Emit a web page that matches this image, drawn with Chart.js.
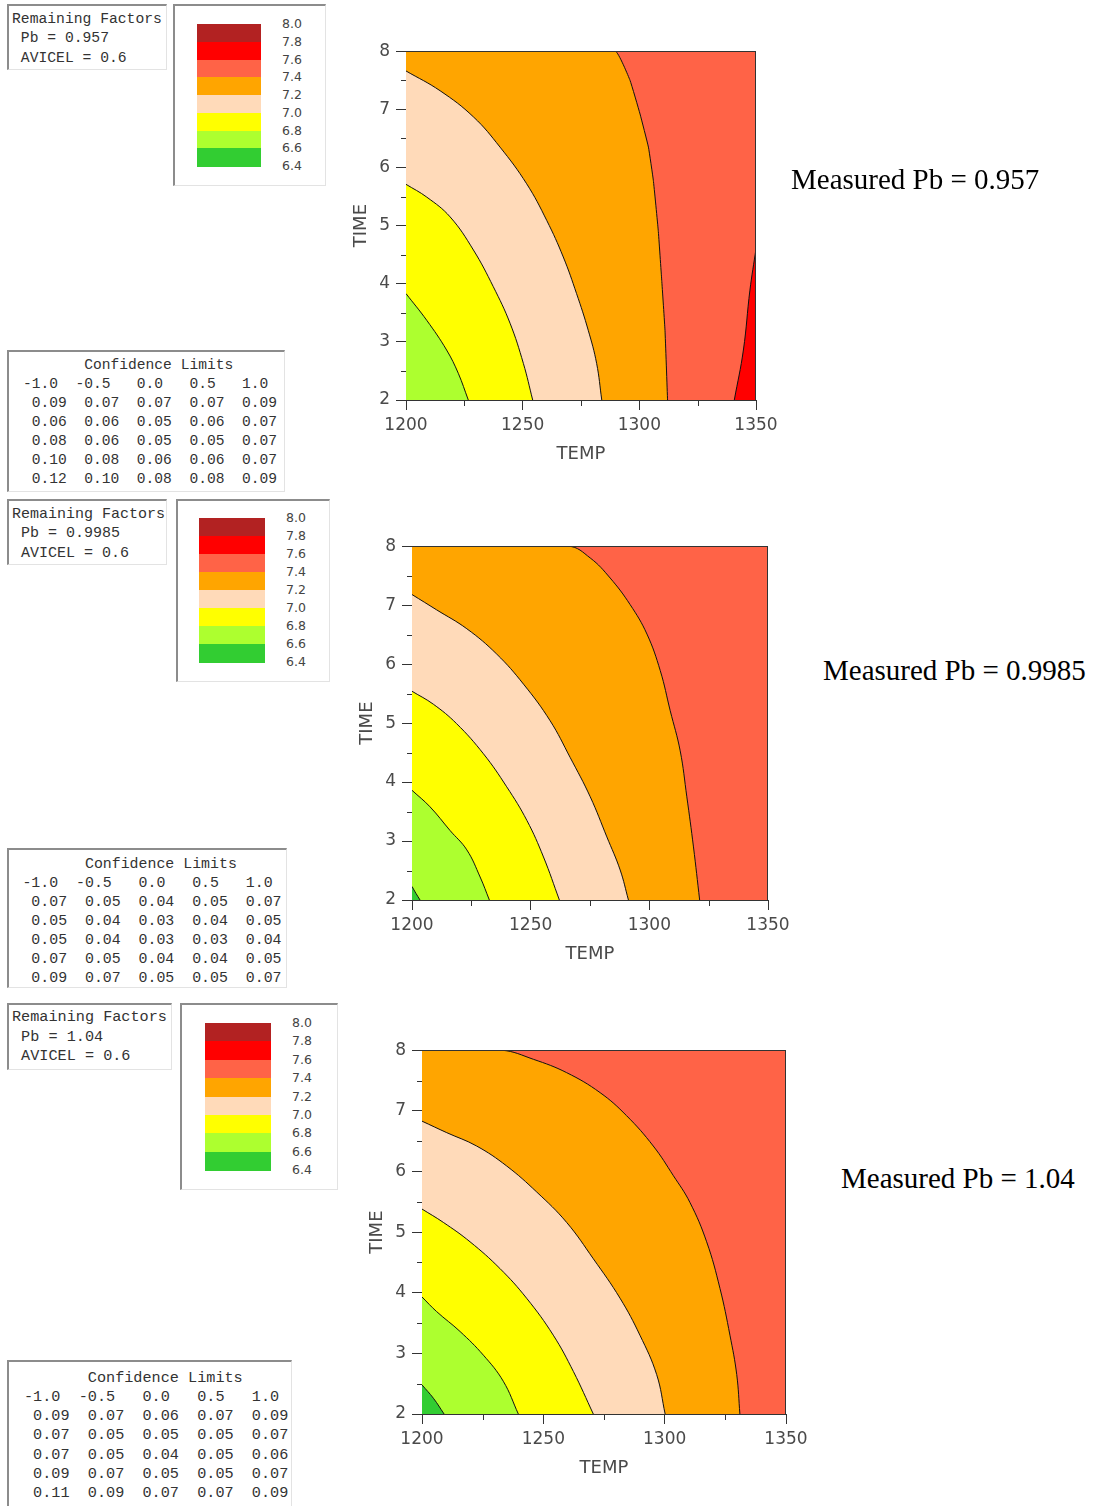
<!DOCTYPE html>
<html lang="en">
<head>
<meta charset="utf-8">
<title>Contour plots – Measured Pb</title>
<script src="https://cdn.jsdelivr.net/npm/chart.js@4.4.1/dist/chart.umd.min.js"></script>
<style>
    html, body { margin: 0; padding: 0; background: #fff; }
    body { position: relative; width: 1094px; height: 1506px; overflow: hidden; }
    .frame {
        position: absolute; box-sizing: border-box; background: #fff;
        border-top: 2px solid #8c8c8c; border-left: 2px solid #8c8c8c;
        border-right: 1px solid #e3e3e3; border-bottom: 1px solid #e3e3e3;
    }
    .mono {
        position: absolute; margin: 0; white-space: pre; color: #333;
        font-family: 'Liberation Mono', 'DejaVu Sans Mono', monospace;
    }
    .band { position: absolute; }
    .lvl {
        position: absolute; font: 12.5px 'DejaVu Sans', sans-serif;
        line-height: 14px; color: #444;
    }
    .note {
        position: absolute; white-space: nowrap; color: #000;
        font-family: 'Liberation Serif', 'Times New Roman', serif;
        font-size: 29px; line-height: 29px;
    }
    canvas { position: absolute; }
</style>
</head>
<body>
<script>
// ── Data ─────────────────────────────────────────────────────

const legendLevels = ['8.0', '7.8', '7.6', '7.4', '7.2', '7.0', '6.8', '6.6', '6.4'];
const legendColors = ['#B22222', '#FF0000', '#FF6347', '#FFA500', '#FFDAB9', '#FFFF00', '#ADFF2F', '#32CD32'];

const tempRange = [1200, 1350];
const timeRange = [2, 8];

const confColumns = [-1.0, -0.5, 0.0, 0.5, 1.0];

const conf957 = [
    [0.09, 0.07, 0.07, 0.07, 0.09],
    [0.06, 0.06, 0.05, 0.06, 0.07],
    [0.08, 0.06, 0.05, 0.05, 0.07],
    [0.10, 0.08, 0.06, 0.06, 0.07],
    [0.12, 0.10, 0.08, 0.08, 0.09],
];
const conf9985 = [
    [0.07, 0.05, 0.04, 0.05, 0.07],
    [0.05, 0.04, 0.03, 0.04, 0.05],
    [0.05, 0.04, 0.03, 0.03, 0.04],
    [0.07, 0.05, 0.04, 0.04, 0.05],
    [0.09, 0.07, 0.05, 0.05, 0.07],
];
const conf104 = [
    [0.09, 0.07, 0.06, 0.07, 0.09],
    [0.07, 0.05, 0.05, 0.05, 0.07],
    [0.07, 0.05, 0.04, 0.05, 0.06],
    [0.09, 0.07, 0.05, 0.05, 0.07],
    [0.11, 0.09, 0.07, 0.07, 0.09],
];

// Contour lines, Pb = 0.957 (TEMP, TIME)
const temp957_68 = [1200, 1208.9, 1217.4, 1222.4, 1226.7];
const time957_68 = [3.83, 3.37, 2.86, 2.46, 2.0];
const temp957_70 = [1200, 1208.9, 1218.9, 1228.9, 1237.4, 1244.6, 1250.3, 1254.3];
const time957_70 = [5.71, 5.49, 5.15, 4.58, 3.95, 3.32, 2.63, 2.0];
const temp957_72 = [1200, 1214.6, 1228.9, 1240.3, 1251.7, 1260.3, 1267.4, 1273.1, 1278.1, 1281.7, 1283.9];
const time957_72 = [7.66, 7.32, 6.87, 6.35, 5.72, 5.09, 4.46, 3.83, 3.20, 2.63, 2.0];
const temp957_74 = [1200, 1289.7, 1296, 1300.3, 1303.9, 1306, 1308.1, 1309.6, 1311, 1312.1];
const time957_74 = [8, 8, 7.50, 6.92, 6.35, 5.78, 4.92, 4.06, 3.20, 2.0];
const temp957_76 = [1340.7, 1344.6, 1347.4, 1350];
const time957_76 = [2.0, 2.86, 3.89, 4.6];

// Contour lines, Pb = 0.9985
const temp9985_66 = [1200, 1201.7, 1203.4];
const time9985_66 = [2.23, 2.11, 2.0];
const temp9985_68 = [1200, 1207.6, 1216, 1223.1, 1228.7, 1232.6];
const time9985_68 = [3.86, 3.58, 3.18, 2.85, 2.39, 2.0];
const temp9985_70 = [1200, 1209, 1218.8, 1230.1, 1239.9, 1248.4, 1255.4, 1262.1];
const time9985_70 = [5.54, 5.32, 4.99, 4.48, 3.92, 3.35, 2.73, 2.0];
const temp9985_72 = [1200, 1210.4, 1223.1, 1235.7, 1247, 1258.2, 1266.6, 1275.1, 1282.1, 1287.7, 1291.2];
const time9985_72 = [7.18, 6.92, 6.60, 6.17, 5.66, 5.04, 4.42, 3.75, 3.07, 2.51, 2.0];
const temp9985_74 = [1200, 1265.9, 1275.1, 1283.5, 1291.9, 1299, 1304.6, 1308.8, 1313, 1315.8, 1318.6, 1321.2];
const time9985_74 = [8, 8, 7.80, 7.46, 7.01, 6.51, 5.89, 5.21, 4.53, 3.75, 2.90, 2.0];

// Contour lines, Pb = 1.04
const temp104_66 = [1200, 1204.7, 1209.1];
const time104_66 = [2.48, 2.26, 2.0];
const temp104_68 = [1200, 1206, 1215.7, 1225.3, 1233.5, 1239.7];
const time104_68 = [3.93, 3.69, 3.36, 2.97, 2.54, 2.0];
const temp104_70 = [1200, 1208.8, 1219.8, 1232.1, 1243.1, 1254.1, 1262.4, 1270.6];
const time104_70 = [5.38, 5.16, 4.84, 4.40, 3.91, 3.30, 2.70, 2.0];
const temp104_72 = [1200, 1210.2, 1222.5, 1234.9, 1247.3, 1259.6, 1270.6, 1281.6, 1289.8, 1296.7, 1300.2];
const time104_72 = [6.83, 6.64, 6.42, 6.09, 5.66, 5.16, 4.56, 3.91, 3.30, 2.65, 2.0];
const temp104_74 = [1200, 1232.8, 1245.9, 1259.6, 1273.4, 1284.3, 1295.3, 1303.6, 1310.4, 1317.3, 1322.8, 1326.9, 1329.7, 1331];
const time104_74 = [8, 8, 7.85, 7.63, 7.30, 6.92, 6.42, 5.93, 5.49, 4.84, 4.07, 3.30, 2.65, 2.0];

// ── Layout ───────────────────────────────────────────────────

const AXIS_W = 80, AXIS_H = 75, PAD_T = 15, PAD_R = 40;
const AXIS_COLOR = '#333';
const LABEL_COLOR = '#4a4a4a';

const panels = [
    {
        pb: '0.957', conf: conf957,
        contours: [
            { temp: temp957_68, time: time957_68, level: '6.8', side: 'below' },
            { temp: temp957_70, time: time957_70, level: '7.0', side: 'below' },
            { temp: temp957_72, time: time957_72, level: '7.2', side: 'below' },
            { temp: temp957_74, time: time957_74, level: '7.4', side: 'below', tension: 0.1 },
            { temp: temp957_76, time: time957_76, level: '7.6', side: 'above' },
        ],
        info:   { left: 7, top: 4, width: 160, height: 66, textLeft: 12, textTop: 9.5, font: 14.7, line: 19.5 },
        legend: { left: 173, top: 4, width: 153, height: 182, barLeft: 197, barTop: 24, barWidth: 64, barHeight: 142, labelLeft: 282 },
        table:  { left: 7, top: 350, width: 278, height: 142, textLeft: 23, textTop: 355.5, font: 14.6, line: 19 },
        plot:   { left: 406, top: 50, width: 350, height: 350 },
        note:   { left: 791, mid: 179 },
    },
    {
        pb: '0.9985', conf: conf9985,
        contours: [
            { temp: temp9985_66, time: time9985_66, level: '6.6', side: 'below' },
            { temp: temp9985_68, time: time9985_68, level: '6.8', side: 'below' },
            { temp: temp9985_70, time: time9985_70, level: '7.0', side: 'below' },
            { temp: temp9985_72, time: time9985_72, level: '7.2', side: 'below' },
            { temp: temp9985_74, time: time9985_74, level: '7.4', side: 'below' },
        ],
        info:   { left: 7, top: 499, width: 160, height: 66, textLeft: 12, textTop: 504.5, font: 15, line: 19.5 },
        legend: { left: 176, top: 499, width: 154, height: 183, barLeft: 199, barTop: 518, barWidth: 66, barHeight: 144, labelLeft: 286 },
        table:  { left: 7, top: 848, width: 280, height: 140, textLeft: 22.4, textTop: 854.5, font: 14.9, line: 19 },
        plot:   { left: 412, top: 545, width: 356, height: 355 },
        note:   { left: 823, mid: 670 },
    },
    {
        pb: '1.04', conf: conf104,
        contours: [
            { temp: temp104_66, time: time104_66, level: '6.6', side: 'below' },
            { temp: temp104_68, time: time104_68, level: '6.8', side: 'below' },
            { temp: temp104_70, time: time104_70, level: '7.0', side: 'below' },
            { temp: temp104_72, time: time104_72, level: '7.2', side: 'below' },
            { temp: temp104_74, time: time104_74, level: '7.4', side: 'below' },
        ],
        info:   { left: 7, top: 1003, width: 165, height: 67, textLeft: 12, textTop: 1008, font: 15.2, line: 19.5 },
        legend: { left: 180, top: 1003, width: 158, height: 187, barLeft: 205, barTop: 1023, barWidth: 66, barHeight: 147, labelLeft: 292 },
        table:  { left: 7, top: 1360, width: 285, height: 160, textLeft: 24, textTop: 1368.5, font: 15.2, line: 19.3 },
        plot:   { left: 422, top: 1049, width: 364, height: 365 },
        note:   { left: 841, mid: 1178 },
    },
];

document.addEventListener('DOMContentLoaded', () => {
    Chart.defaults.font.family = "'DejaVu Sans', sans-serif";
    Chart.defaults.color = LABEL_COLOR;
    panels.forEach(renderPanel);
});

// ── Panels ───────────────────────────────────────────────────

function renderPanel(panel) {
    renderInfoBox(panel);
    renderLegend(panel.legend);
    renderConfTable(panel);
    createContourChart(panel);

    const note = document.createElement('div');
    note.className = 'note';
    note.textContent = `Measured Pb = ${panel.pb}`;
    note.style.left = panel.note.left + 'px';
    note.style.top = (panel.note.mid - 14.5) + 'px';
    document.body.appendChild(note);
}

function renderInfoBox(panel) {
    const r = panel.info;
    addFrame(r);
    const lines = ['Remaining Factors', ` Pb = ${panel.pb}`, ' AVICEL = 0.6'];
    addMono(lines.join('\n'), r);
}

function renderLegend(r) {
    addFrame(r);
    const bandH = r.barHeight / legendColors.length;

    legendColors.forEach((color, i) => {
        const d = document.createElement('div');
        d.className = 'band';
        Object.assign(d.style, {
            left: r.barLeft + 'px',
            top: (r.barTop + i * bandH) + 'px',
            width: r.barWidth + 'px',
            height: (bandH + 0.5) + 'px',
            background: color,
        });
        document.body.appendChild(d);
    });

    legendLevels.forEach((lvl, i) => {
        const s = document.createElement('div');
        s.className = 'lvl';
        s.textContent = lvl;
        s.style.left = r.labelLeft + 'px';
        s.style.top = (r.barTop + i * bandH - 7) + 'px';
        document.body.appendChild(s);
    });
}

function renderConfTable(panel) {
    const r = panel.table;
    addFrame(r);
    const title = ' '.repeat(7) + 'Confidence Limits';
    const header = confColumns
        .map(c => ((c < 0 ? '' : ' ') + c.toFixed(1)).padEnd(6))
        .join('').trimEnd();
    const rows = panel.conf.map(row => row.map(v => ' ' + v.toFixed(2) + ' ').join('').trimEnd());
    addMono([title, header, ...rows].join('\n'), r);
}

// ── Contour chart ────────────────────────────────────────────

const axisFrame = {
    id: 'axisFrame',
    afterDraw(chart) {
        const { ctx, chartArea: a, scales: { x, y } } = chart;
        ctx.save();
        ctx.strokeStyle = AXIS_COLOR;
        ctx.lineWidth = 1;
        ctx.beginPath();
        const top = Math.round(a.top) + 0.5;
        const right = Math.round(a.right) - 0.5;
        ctx.moveTo(a.left, top);  ctx.lineTo(a.right, top);
        ctx.moveTo(right, a.top); ctx.lineTo(right, a.bottom);
        // minor ticks
        for (let v = y.min + 0.5; v < y.max; v += 1) {
            const py = Math.round(y.getPixelForValue(v)) + 0.5;
            ctx.moveTo(a.left - 5, py); ctx.lineTo(a.left, py);
        }
        for (let v = x.min + 25; v < x.max; v += 50) {
            const px = Math.round(x.getPixelForValue(v)) + 0.5;
            ctx.moveTo(px, a.bottom); ctx.lineTo(px, a.bottom + 6);
        }
        ctx.stroke();
        ctx.restore();
    },
};

function bandColor(level, side) {
    const idx = legendLevels.indexOf(level);
    return side === 'below' ? legendColors[idx] : legendColors[idx - 1];
}

function createContourChart(panel) {
    const p = panel.plot;
    const w = AXIS_W + p.width + PAD_R;
    const h = PAD_T + p.height + AXIS_H;

    const canvas = document.createElement('canvas');
    canvas.width = w;
    canvas.height = h;
    Object.assign(canvas.style, {
        left: (p.left - AXIS_W) + 'px', top: (p.top - PAD_T) + 'px',
        width: w + 'px', height: h + 'px',
    });
    document.body.appendChild(canvas);

    // lowest band first so it is painted on top; whole-area band last
    const regions = [
        ...panel.contours,
        { temp: tempRange, time: [timeRange[1], timeRange[1]], level: '7.6', side: 'below', plain: true },
    ];

    const datasets = regions.map(c => ({
        data: c.temp.map((t, i) => ({ x: t, y: c.time[i] })),
        borderColor: c.plain ? 'transparent' : '#111',
        borderWidth: c.plain ? 0 : 1,
        backgroundColor: bandColor(c.level, c.side),
        fill: 'start',
        pointRadius: 0,
        tension: c.tension ?? 0.4,
    }));

    const tickFont = { size: 17 };
    const titleFont = { size: 18 };

    new Chart(canvas, {
        type: 'line',
        data: { datasets },
        options: {
            responsive: false,
            animation: false,
            devicePixelRatio: 1,
            events: [],
            layout: { padding: { left: 0, top: PAD_T, right: PAD_R, bottom: 0 } },
            plugins: { legend: { display: false }, tooltip: { enabled: false } },
            scales: {
                x: {
                    type: 'linear',
                    min: tempRange[0],
                    max: tempRange[1],
                    afterFit: s => { s.height = AXIS_H; },
                    ticks: { stepSize: 50, padding: 5, color: LABEL_COLOR, font: tickFont, callback: v => String(v) },
                    grid: { drawOnChartArea: false, drawTicks: true, tickLength: 10, color: AXIS_COLOR },
                    border: { display: true, color: AXIS_COLOR },
                    title: { display: true, text: 'TEMP', color: LABEL_COLOR, font: titleFont, padding: { top: 0, bottom: 10 } },
                },
                y: {
                    type: 'linear',
                    min: timeRange[0],
                    max: timeRange[1],
                    afterFit: s => { s.width = AXIS_W; },
                    ticks: { stepSize: 1, padding: 6, color: LABEL_COLOR, font: tickFont, callback: v => String(v) },
                    grid: { drawOnChartArea: false, drawTicks: true, tickLength: 10, color: AXIS_COLOR },
                    border: { display: true, color: AXIS_COLOR },
                    title: { display: true, text: 'TIME', color: LABEL_COLOR, font: titleFont, padding: { top: 25, bottom: 0 } },
                },
            },
        },
        plugins: [axisFrame],
    });
}

// ── Helpers ──────────────────────────────────────────────────

function addFrame(r) {
    const d = document.createElement('div');
    d.className = 'frame';
    Object.assign(d.style, {
        left: r.left + 'px', top: r.top + 'px',
        width: r.width + 'px', height: r.height + 'px',
    });
    document.body.appendChild(d);
    return d;
}

function addMono(text, r) {
    const pre = document.createElement('pre');
    pre.className = 'mono';
    pre.textContent = text;
    Object.assign(pre.style, {
        left: r.textLeft + 'px', top: r.textTop + 'px',
        fontSize: r.font + 'px', lineHeight: r.line + 'px',
    });
    document.body.appendChild(pre);
    return pre;
}
</script>
</body>
</html>
